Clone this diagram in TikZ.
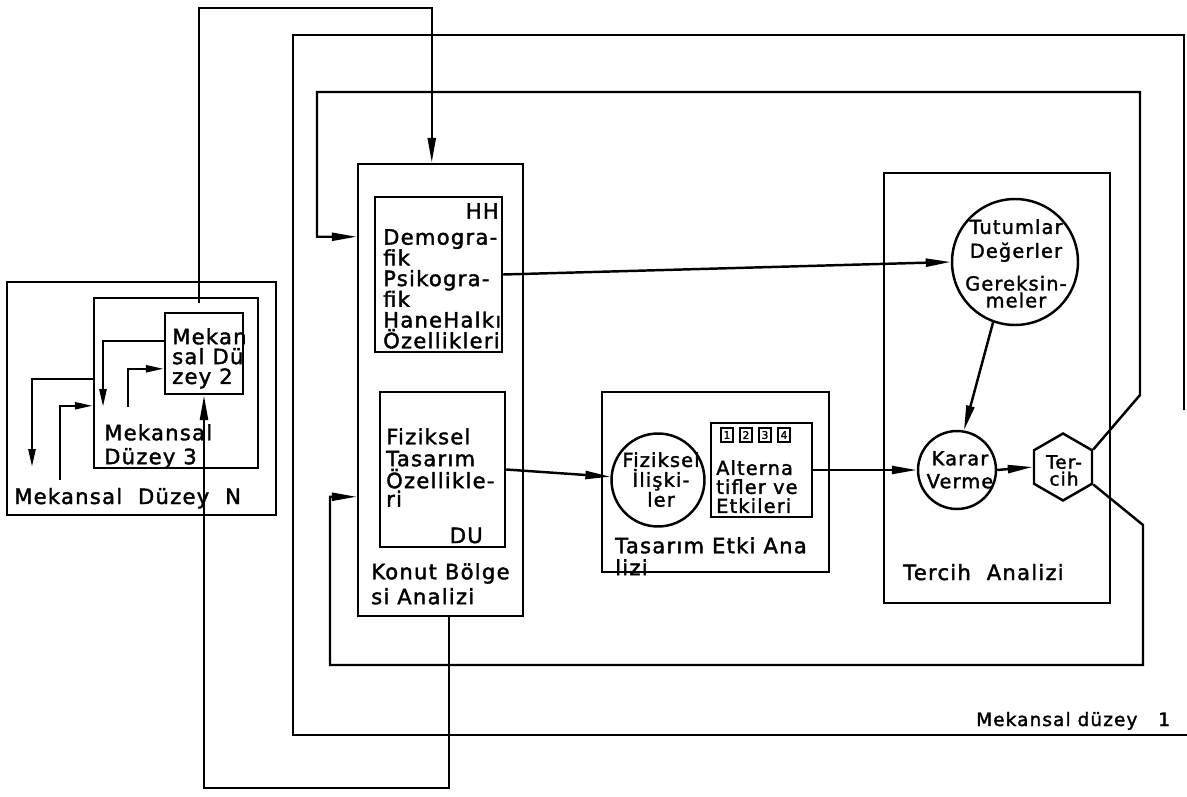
\documentclass[tikz,border=0pt]{standalone}
\usepackage{fontspec}
\newfontfamily\lettering[LetterSpace=6,FakeBold=1.8]{DejaVu Sans}
\usetikzlibrary{arrows.meta,shapes.geometric,fit,calc}

\begin{document}
\begin{tikzpicture}[x=0.02cm, y=-0.02cm, line width=1.4pt,
  arr/.style={-{Triangle[length=5mm,width=1.6mm]}},
  sarr/.style={-{Triangle[length=3.6mm,width=1.4mm]}},
  box/.style={draw, inner sep=0pt},
  lbl/.style={inner sep=0pt, align=left, font=\lettering\fontsize{12}{11.8}\selectfont},
  slbl/.style={inner sep=0pt, align=center, font=\lettering\fontsize{11}{11}\selectfont},
  bubble/.style={draw, circle, inner sep=0pt},
  numbox/.style={draw, line width=1.6pt, inner sep=0pt, minimum width=0.24cm, minimum height=0.28cm, font=\lettering\fontsize{6}{6}\selectfont}]
\useasboundingbox (0,0) rectangle (1187,797);

% Mekansal duzey N, 3, 2
\node[box, fit={(7,282)(276,515)}] (dN) {};
\node[box, fit={(94,298)(258,468)}] (d3) {};
\node[box, fit={(165,313)(243,394)}] (d2) {};
\node[lbl, anchor=base west] (dNt) at (13,504) {Mekansal\ \ Düzey\ \ N};
\node[lbl, anchor=north west, font=\lettering\fontsize{12}{13.6}\selectfont] (d3t) at (103,423) {Mekansal\\Düzey 3};
\node[lbl, anchor=north west, font=\lettering\fontsize{12}{11.3}\selectfont] (d2t) at (171,327) {Mekan\\sal Dü\\zey 2};

% links between the levels
\coordinate (a1) at (103,407);
\coordinate (a2) at (128,407);
\coordinate (a3) at (32,467);
\coordinate (a4) at (60,480);
\draw[sarr] ($(d2.north west)+(0,29)$) -| (a1);
\draw[sarr] (a2) |- ($(d2.north west)+(0,57)$);
\draw[sarr] ($(d3.north west)+(0,82)$) -| (a3);
\draw[sarr] (a4) |- ($(d3.north west)+(0,109)$);

% Mekansal duzey 1 frame
\draw (1184,410) -- (1184,35) -- (293,35) -- (293,735) -- (1187,735);
\node[lbl, anchor=base west, font=\lettering\fontsize{10.5}{11}\selectfont] (d1t) at (975,726) {Mekansal\ düzey\ \ \ 1};

% Konut Bolgesi Analizi
\node[box, fit={(358,164)(523,616)}] (konut) {};
\node[box, fit={(375,197)(502,352)}] (hh) {};
\node[box, fit={(380,392)(505,547)}] (du) {};
\node[lbl, anchor=north west] (hht) at (382,228) {Demogra-\\fik\\Psikogra-\\fik\\HaneHalkı\\Özellikleri};
\node[lbl, anchor=north east] (hhl) at (500,202) {HH};
\node[lbl, anchor=north west, font=\lettering\fontsize{12}{12.5}\selectfont] (dut) at (385,427) {Fiziksel\\Tasarım\\Özellikle-\\[-2pt]ri};
\node[lbl, anchor=base east] (dul) at (484,543) {DU};
\node[lbl, anchor=north west, font=\lettering\fontsize{12}{14.2}\selectfont] (konutt) at (370,562) {Konut Bölge\\si Analizi};

% Tasarim Etki Analizi
\node[box, fit={(602,392)(829,572)}] (tasarim) {};
\node[bubble, minimum size=1.86cm] (fizc) at (658,480) {};
\node[slbl, anchor=north, font=\lettering\fontsize{11}{11.3}\selectfont] (fizct) at (661,451) {Fiziksel\\İlişki-\\ler};
\node[box, fit={(711,423)(812,517)}] (alt) {};
\foreach \i in {1,...,4}
  \node[numbox] (n\i) at (708+19*\i,435) {\i};
\node[lbl, anchor=north west, font=\lettering\fontsize{11}{10.8}\selectfont] (altt) at (715,459) {Alterna\\tifler ve\\Etkileri};
\node[lbl, anchor=north west, font=\lettering\fontsize{12}{12.5}\selectfont] (tasarimt) at (614,536) {Tasarım Etki Ana\\lizi};

% Tercih Analizi
\node[box, fit={(884,173)(1110,603)}] (tercihA) {};
\node[bubble, minimum size=2.52cm] (tutum) at (1015,262) {};
\node[slbl, anchor=north, font=\lettering\fontsize{11}{13.6}\selectfont] (tutumt) at (1016,218) {Tutumlar\\Değerler\\[5pt]Gereksin-\\[-4pt]meler};
\node[bubble, minimum size=1.56cm] (karar) at (957,470) {};
\node[slbl, anchor=north, font=\lettering\fontsize{11}{13}\selectfont] (karart) at (960,450) {Karar\\Verme};
\node[draw, regular polygon, regular polygon sides=6, shape border rotate=30, minimum size=1.34cm, inner sep=0pt] (tercih) at (1063,467) {};
\node[slbl, anchor=north, font=\lettering\fontsize{10.5}{9.6}\selectfont] (tercht) at (1064,454) {Ter-\\cih};
\node[lbl, anchor=base west] (tercihAt) at (902,580) {Tercih\ \ Analizi};

% flows
\draw[arr] (hh.east) -- (tutum.west);
\draw[arr] (du.east) -- (fizc);
\draw[arr] (alt.east) -- (karar);
\draw[arr] (tutum.-110) -- (karar.80);
\draw[arr] (karar.east) -- (tercih.west);

% feedback from Tercih
\draw[arr] (tercih.30) -- (1140,395) |- (317,92) |- ($(konut.north west)+(0,74)$);
\draw[arr] (tercih.-30) -- (1143,525) |- (330,665) |- ($(konut.north west)+(0,334)$);

% loops to the other levels
\coordinate (t0) at (199,303);
\draw[arr] (t0) -- (199,8) -| ($(konut.north west)+(75,0)$);
\draw[arr] ($(konut.south west)+(92,0)$) -- ++(0,171) -| (d2.south);
\end{tikzpicture}
\end{document}
